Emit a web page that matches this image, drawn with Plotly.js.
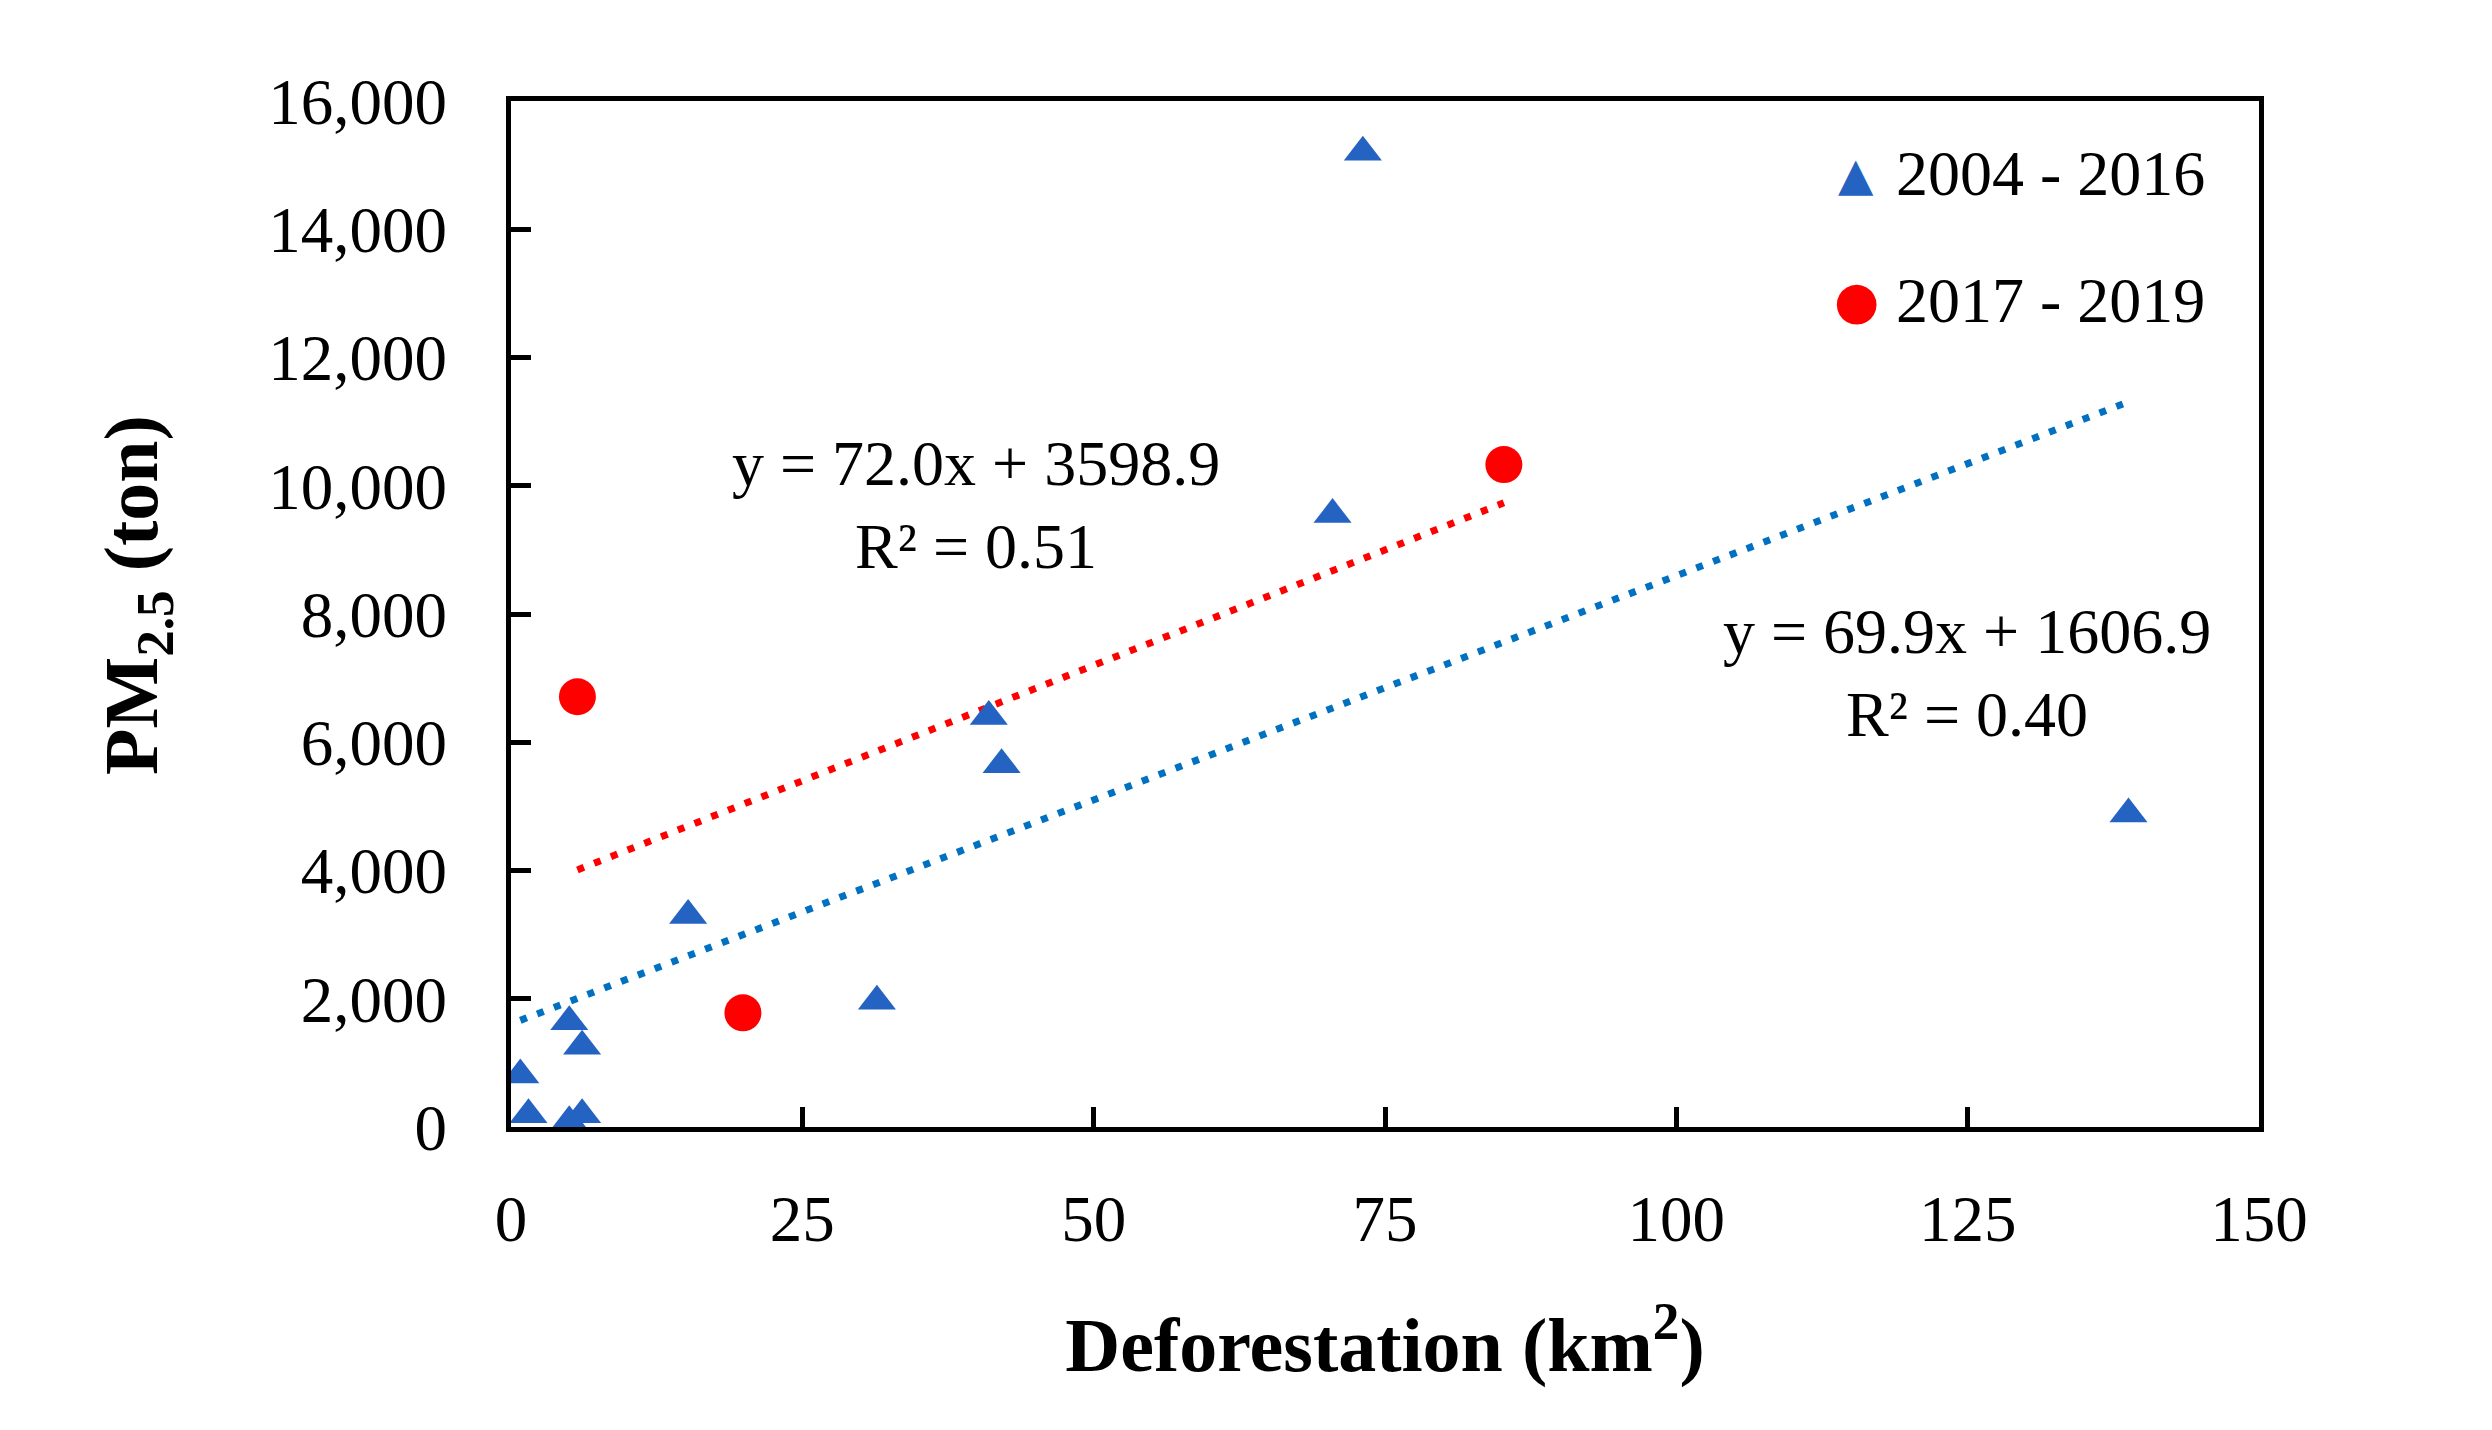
<!DOCTYPE html>
<html>
<head>
<meta charset="utf-8">
<script src="https://cdn.plot.ly/plotly-3.0.1.min.js"></script>
<style>
    html, body { margin: 0; padding: 0; background: #ffffff; }
    #containerID { width: 2492px; height: 1430px; }
</style>
</head>
<body>
<div id="containerID"></div>
<script>
// values
var series1Name = '2004 - 2016';
var series1X = [73.1, 70.5, 41.0, 42.1, 138.8, 15.2, 31.4, 5.0, 6.1, 0.8, 1.5, 5.0, 6.1];
var series1Y = [15200, 9550, 6400, 5650, 4880, 3300, 1960, 1640, 1260, 810, 190, 80, 190];

var series2Name = '2017 - 2019';
var series2X = [5.7, 19.9, 85.2];
var series2Y = [6710, 1780, 10330];

// linear trendlines as printed on the chart
var trend1Slope = 69.9;
var trend1Intercept = 1606.9;
var trend1Label = 'y = 69.9x + 1606.9<br>R² = 0.40';

var trend2Slope = 72.0;
var trend2Intercept = 3598.9;
var trend2Label = 'y = 72.0x + 3598.9<br>R² = 0.51';

var xTicks = [0, 25, 50, 75, 100, 125, 150];
var yTicks = [0, 2000, 4000, 6000, 8000, 10000, 12000, 14000, 16000];

var blue = '#2563C3';
var red = '#FF0000';

// trendline runs over the x range of its own series
function trendLine(xs, slope, intercept)
{
    var xMin = Math.min.apply(null, xs);
    var xMax = Math.max.apply(null, xs);
    return {
        x: [xMin, xMax],
        y: [slope * xMin + intercept, slope * xMax + intercept]
    };
}

var line1 = trendLine(series1X, trend1Slope, trend1Intercept);
var line2 = trendLine(series2X, trend2Slope, trend2Intercept);

var serif = 'Liberation Serif, Times New Roman, serif';

var plotlyData = [
    {
        x: line1.x,
        y: line1.y,
        type: 'scatter',
        mode: 'lines',
        line: {color: '#0070C0', width: 7, dash: '7px,11px'},
        showlegend: false,
        hoverinfo: 'skip'
    },
    {
        x: line2.x,
        y: line2.y,
        type: 'scatter',
        mode: 'lines',
        line: {color: red, width: 7, dash: '7px,11px'},
        showlegend: false,
        hoverinfo: 'skip'
    },
    {
        x: series1X,
        y: series1Y,
        type: 'scatter',
        mode: 'markers',
        name: series1Name,
        marker: {symbol: 'triangle-up', size: 33, color: blue}
    },
    {
        x: series2X,
        y: series2Y,
        type: 'scatter',
        mode: 'markers',
        name: series2Name,
        marker: {symbol: 'circle', size: 37, color: red}
    }
];

// legend drawn as annotations so the symbols can be as big as the markers
var legendRows = [
    {symbol: '▲', color: blue, size: 46, name: series1Name, y: 0.929},
    {symbol: '●', color: red, size: 52, name: series2Name, y: 0.806}
];

var annotations = [
    {
        x: 39.9, y: 9700, xref: 'x', yref: 'y',
        text: trend2Label, showarrow: false,
        font: {family: serif, size: 64, color: '#000000'}
    },
    {
        x: 124.9, y: 7080, xref: 'x', yref: 'y',
        text: trend1Label, showarrow: false,
        font: {family: serif, size: 64, color: '#000000'}
    }
];

for(var i = 0; i < legendRows.length; i++)
{
    var row = legendRows[i];
    annotations.push({
        x: 0.7695, y: row.y, xref: 'paper', yref: 'paper',
        xanchor: 'center', yanchor: 'middle',
        text: row.symbol, showarrow: false,
        font: {family: 'DejaVu Sans', size: row.size, color: row.color}
    });
    annotations.push({
        x: 0.791, y: row.y, xref: 'paper', yref: 'paper',
        xanchor: 'left', yanchor: 'middle',
        text: row.name, showarrow: false,
        font: {family: serif, size: 64, color: '#000000'}
    });
}

var plotlyLayout = {
    width: 2492,
    height: 1430,
    margin: {l: 511, r: 233, t: 101, b: 303},
    paper_bgcolor: '#ffffff',
    plot_bgcolor: '#ffffff',
    font: {family: serif, size: 65, color: '#000000'},
    showlegend: false,
    xaxis: {
        range: [0, 150],
        tickvals: xTicks,
        ticks: 'inside',
        ticklen: 20,
        tickwidth: 5,
        tickcolor: '#000000',
        ticklabelstandoff: 31,
        showline: true,
        linewidth: 5,
        linecolor: '#000000',
        mirror: true,
        showgrid: false,
        zeroline: false,
        tickfont: {family: serif, size: 65},
        title: {
            text: '<b>Deforestation (km<sup>2</sup>)</b>',
            font: {family: serif, size: 76},
            standoff: 65
        }
    },
    yaxis: {
        range: [0, 16000],
        tickvals: yTicks,
        tickformat: ',d',
        ticks: 'inside',
        ticklen: 20,
        tickwidth: 5,
        tickcolor: '#000000',
        ticklabelstandoff: 46,
        showline: true,
        linewidth: 5,
        linecolor: '#000000',
        mirror: true,
        showgrid: false,
        zeroline: false,
        tickfont: {family: serif, size: 65},
        title: {
            text: '<b>&nbsp;&nbsp;PM<sub>2.5</sub> (ton)</b>',
            font: {family: serif, size: 76},
            standoff: 87
        }
    },
    annotations: annotations
};

var plotlyConfig = {
    displayModeBar: false,
    staticPlot: true
};

Plotly.newPlot('containerID', plotlyData, plotlyLayout, plotlyConfig);
</script>
</body>
</html>
